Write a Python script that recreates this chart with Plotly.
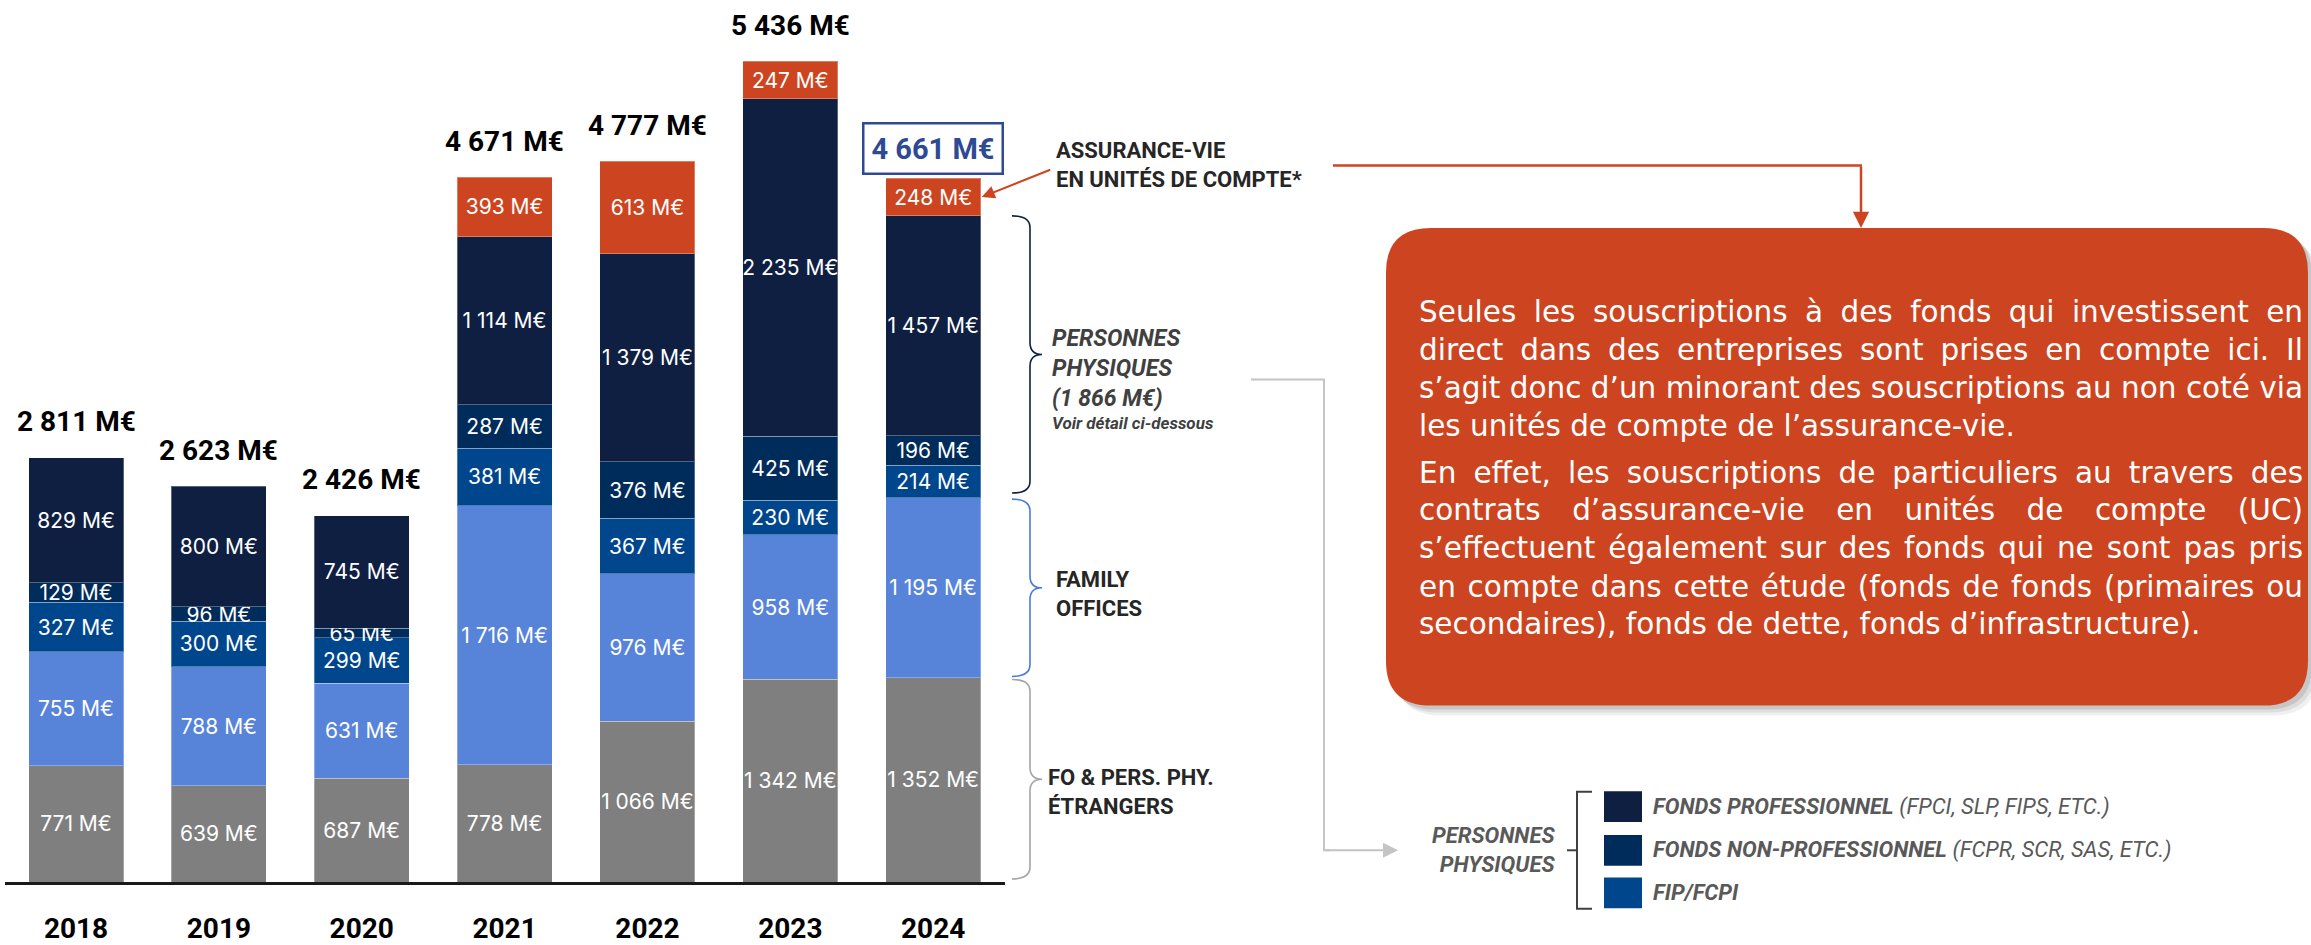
import json
import plotly.graph_objects as go

# ---------------- data ----------------
years = [2018, 2019, 2020, 2021, 2022, 2023, 2024]
etrangers = [771, 639, 687, 778, 1066, 1342, 1352]          # FO & pers. phy. étrangers
family_offices = [755, 788, 631, 1716, 976, 958, 1195]
fip_fcpi = [327, 300, 299, 381, 367, 230, 214]
fonds_non_pro = [129, 96, 65, 287, 376, 425, 196]
fonds_pro = [829, 800, 745, 1114, 1379, 2235, 1457]
assurance_vie = [None, None, None, 393, 613, 247, 248]
totals = [2811, 2623, 2426, 4671, 4777, 5436, 4661]
pp_2024_label = "(1 866 M€)"

series = [
    ("FO & pers. phy. étrangers", etrangers, "#7f7f7f"),
    ("Family offices", family_offices, "#5783d9"),
    ("FIP/FCPI", fip_fcpi, "#00468c"),
    ("Fonds non-professionnel", fonds_non_pro, "#002c5b"),
    ("Fonds professionnel", fonds_pro, "#0f1f42"),
    ("Assurance-vie UC", assurance_vie, "#cd4520"),
]

ORANGE = "#cd4520"
W, H = 2311, 945
AXIS_PX = 890          # pixel row of the baseline
YMAX = 5844            # value at the top of the figure
TEXT_X0, TEXT_W = 1419, 884


def fmt(v):
    return f"{v:,}".replace(",", " ") + " M€"


def px(x):
    return x / W


def py(y):
    return (AXIS_PX - y) / AXIS_PX


def vpix(v):
    return AXIS_PX - v * AXIS_PX / YMAX


fig = go.Figure()
for name, vals, col in series:
    fig.add_trace(go.Bar(
        x=years, y=vals, name=name, width=0.665,
        marker=dict(color=col, line=dict(color="rgba(255,255,255,0.30)", width=1)),
        text=[fmt(v) if v is not None else "" for v in vals],
        textposition="inside", insidetextanchor="middle", textangle=0,
        textfont=dict(family="Inter", size=21, color="white"),
        hoverinfo="skip",
    ))

stack_tops = []
for i in range(len(years)):
    stack_tops.append(sum((s[1][i] or 0) for s in series))

annotations = []
for i, yr in enumerate(years):
    if yr == 2024:
        annotations.append(dict(
            x=yr, y=stack_tops[i], xref="x", yref="y", text=f"<b>{fmt(totals[i])}</b>",
            showarrow=False, yanchor="bottom", yshift=3,
            font=dict(family="Roboto", size=29, color="#2d4a93"),
            bordercolor="#2d4a93", borderwidth=2.5, borderpad=7, bgcolor="white"))
    else:
        annotations.append(dict(
            x=yr, y=stack_tops[i], xref="x", yref="y", text=f"<b>{fmt(totals[i])}</b>",
            showarrow=False, yanchor="middle", yshift=36,
            font=dict(family="Roboto", size=28, color="black")))

# ---------------- right-hand labels ----------------
label_font = dict(family="Roboto", size=22, color="#262626")
annotations += [
    dict(x=px(1054), y=py(167), xref="paper", yref="paper", xanchor="left", yanchor="middle",
         align="left", showarrow=False, text="<b>ASSURANCE-VIE<br>EN UNITÉS DE COMPTE*</b>",
         font=label_font),
    dict(x=px(1050), y=py(372), xref="paper", yref="paper", xanchor="left", yanchor="middle",
         align="left", showarrow=False,
         text=f"<b><i>PERSONNES<br>PHYSIQUES<br>{pp_2024_label}</i></b>",
         font=dict(family="Roboto", size=23, color="#404040")),
    dict(x=px(1050), y=py(427), xref="paper", yref="paper", xanchor="left", yanchor="middle",
         align="left", showarrow=False, text="<b><i>Voir détail ci-dessous</i></b>",
         font=dict(family="Roboto", size=17, color="#404040")),
    dict(x=px(1054), y=py(599), xref="paper", yref="paper", xanchor="left", yanchor="middle",
         align="left", showarrow=False, text="<b>FAMILY<br>OFFICES</b>", font=label_font),
    dict(x=px(1046), y=py(799), xref="paper", yref="paper", xanchor="left", yanchor="middle",
         align="left", showarrow=False, text="<b>FO & PERS. PHY.<br>ÉTRANGERS</b>", font=label_font),
]

# arrow from the label to the 2024 assurance-vie segment
i24 = years.index(2024)
av_mid = stack_tops[i24] - assurance_vie[i24] / 2
annotations.append(dict(
    x=2024 + 0.34, y=av_mid, xref="x", yref="y", text="", showarrow=True,
    ax=70, ay=-28, arrowhead=2, arrowsize=1.3, arrowwidth=2, arrowcolor=ORANGE, standoff=0))
# elbow arrow to the text box
annotations.append(dict(
    x=px(1861), y=py(230), xref="paper", yref="paper", text="", showarrow=True,
    ax=0, ay=-63, arrowhead=2, arrowsize=1.3, arrowwidth=2.5, arrowcolor=ORANGE, standoff=0))
# grey elbow arrow to the legend
annotations.append(dict(
    x=px(1398), y=py(858), xref="paper", yref="paper", text="", showarrow=True,
    ax=-74, ay=0, arrowhead=2, arrowsize=1.5, arrowwidth=2, arrowcolor="#c4c4c4", standoff=0))

# ---------------- orange text box ----------------
box_lines = [
    (315, "Seules les souscriptions à des fonds qui investissent en", True),
    (353, "direct dans des entreprises sont prises en compte ici. Il", True),
    (392, "s’agit donc d’un minorant des souscriptions au non coté via", True),
    (430, "les unités de compte de l’assurance-vie.", False),
    (477, "En effet, les souscriptions de particuliers au travers des", True),
    (515, "contrats d’assurance-vie en unités de compte (UC)", True),
    (553, "s’effectuent également sur des fonds qui ne sont pas pris", True),
    (592, "en compte dans cette étude (fonds de fonds (primaires ou", True),
    (630, "secondaires), fonds de dette, fonds d’infrastructure).", False),
]
for yy, t, _ in box_lines:
    annotations.append(dict(
        x=px(TEXT_X0 - 2), y=py(yy), xref="paper", yref="paper", xanchor="left",
        yanchor="middle", align="left", showarrow=False, text=t,
        font=dict(family="DejaVu Sans", size=29.5, color="white")))
justified = [t for _, t, j in box_lines if j]

# ---------------- legend ----------------
leg_font = dict(family="Roboto", size=22, color="#595959")
legend_items = [
    (814, "#0f1f42", "<b><i>FONDS PROFESSIONNEL</i></b> <i>(FPCI, SLP, FIPS, ETC.)</i>"),
    (858, "#002c5b", "<b><i>FONDS NON-PROFESSIONNEL</i></b> <i>(FCPR, SCR, SAS, ETC.)</i>"),
    (901, "#00468c", "<b><i>FIP/FCPI</i></b>"),
]
shapes = []
for yy, col, t in legend_items:
    shapes.append(dict(type="rect", xref="paper", yref="paper", x0=px(1604), x1=px(1642),
                       y0=py(yy - 15.5), y1=py(yy + 15.5), fillcolor=col, line=dict(width=0)))
    annotations.append(dict(x=px(1651), y=py(yy), xref="paper", yref="paper", xanchor="left",
                            yanchor="middle", showarrow=False, text=t, font=leg_font))
annotations.append(dict(x=px(1557), y=py(858), xref="paper", yref="paper", xanchor="right",
                        yanchor="middle", align="right", showarrow=False,
                        text="<b><i>PERSONNES<br>PHYSIQUES</i></b>", font=leg_font))


def path_px(points, close=False):
    s = ""
    for cmd, coords in points:
        vals = []
        for j in range(0, len(coords), 2):
            vals.append(f"{px(coords[j]):.5f},{py(coords[j + 1]):.5f}")
        s += cmd + " " + " ".join(vals) + " "
    if close:
        s += "Z"
    return s


# legend bracket
shapes.append(dict(type="path", xref="paper", yref="paper",
                   path=path_px([("M", (1592, 799)), ("L", (1577, 799)), ("L", (1577, 917)),
                                 ("L", (1592, 917))]),
                   line=dict(color="#404040", width=2)))
shapes.append(dict(type="line", xref="paper", yref="paper", x0=px(1567), x1=px(1577),
                   y0=py(858), y1=py(858), line=dict(color="#404040", width=2)))

# orange elbow line
shapes.append(dict(type="line", xref="paper", yref="paper", x0=px(1333), x1=px(1862),
                   y0=py(167), y1=py(167), line=dict(color=ORANGE, width=2.5)))
# grey elbow line
shapes.append(dict(type="path", xref="paper", yref="paper",
                   path=path_px([("M", (1251, 383)), ("L", (1324, 383)), ("L", (1324, 858)),
                                 ("L", (1330, 858))]),
                   line=dict(color="#c4c4c4", width=2)))


def rounded_rect(x0, y0, x1, y1, r):
    return path_px([
        ("M", (x0 + r, y0)), ("L", (x1 - r, y0)), ("Q", (x1, y0, x1, y0 + r)),
        ("L", (x1, y1 - r)), ("Q", (x1, y1, x1 - r, y1)), ("L", (x0 + r, y1)),
        ("Q", (x0, y1, x0, y1 - r)), ("L", (x0, y0 + r)), ("Q", (x0, y0, x0 + r, y0)),
    ], close=True)


# shadow + box
for off, op in [(10, 0.06), (7, 0.08), (4, 0.10)]:
    shapes.append(dict(type="path", xref="paper", yref="paper",
                       path=rounded_rect(1386 + off, 230 + off, 2308 + off, 712 + off, 45),
                       fillcolor=f"rgba(0,0,0,{op})", line=dict(width=0)))
shapes.append(dict(type="path", xref="paper", yref="paper",
                   path=rounded_rect(1386, 230, 2308, 712, 45),
                   fillcolor=ORANGE, line=dict(width=0)))


# curly braces next to the 2024 bar
def brace(v_top, v_bot, color, xl=1012, xm=1030, xt=1042, r=12):
    yt, yb = vpix(v_top), vpix(v_bot)
    ym = (yt + yb) / 2
    return dict(type="path", xref="paper", yref="paper",
                path=path_px([("M", (xl, yt)), ("Q", (xm, yt, xm, yt + r)), ("L", (xm, ym - r)),
                              ("Q", (xm, ym, xt, ym)), ("Q", (xm, ym, xm, ym + r)),
                              ("L", (xm, yb - r)), ("Q", (xm, yb, xl, yb))]),
                line=dict(color=color, width=1.6))


b0 = etrangers[i24]
b1 = b0 + family_offices[i24]
b2 = b1 + fip_fcpi[i24] + fonds_non_pro[i24] + fonds_pro[i24]
shapes.append(brace(b2, b1 + 30, "#0f1f42"))
shapes.append(brace(b1 - 10, b0 + 10, "#4a7bd8"))
shapes.append(brace(b0 - 10, 20, "#a6a6a6"))

fig.update_layout(
    width=W, height=H, margin=dict(l=0, r=0, t=0, b=H - AXIS_PX),
    barmode="stack", showlegend=False,
    plot_bgcolor="white", paper_bgcolor="white",
    uniformtext=dict(minsize=21, mode="show"),
    xaxis=dict(range=[2017.5, 2024.5], domain=[4.6 / W, 1004.6 / W],
               tickvals=years, ticktext=[f"<b>{y}</b>" for y in years],
               tickfont=dict(family="Roboto", size=28, color="black"),
               showline=True, linecolor="#1a1a1a", linewidth=2.5, ticks="",
               ticklabelstandoff=20, showgrid=False, zeroline=False, fixedrange=True),
    yaxis=dict(range=[0, YMAX], visible=False, fixedrange=True),
    annotations=annotations, shapes=shapes,
)

# justify the paragraph lines of the text box (word spacing, like the original)
justify_js = """
document.body.style.margin='0';document.body.style.overflow='hidden';
(function(){
  var targets = %s;
  var width = %d;
  var nodes = document.querySelectorAll('.annotation-text');
  for (var i = 0; i < nodes.length; i++) {
    var n = nodes[i];
    var s = n.textContent;
    if (targets.indexOf(s) >= 0) {
      var w = n.getComputedTextLength();
      var ns = (s.match(/ /g) || []).length;
      if (ns > 0) { n.style.wordSpacing = ((width - w) / ns) + 'px'; }
    }
  }
})();
""" % (json.dumps(justified), TEXT_W)

fig.write_html("out.html", config={"displayModeBar": False}, post_script=justify_js)
